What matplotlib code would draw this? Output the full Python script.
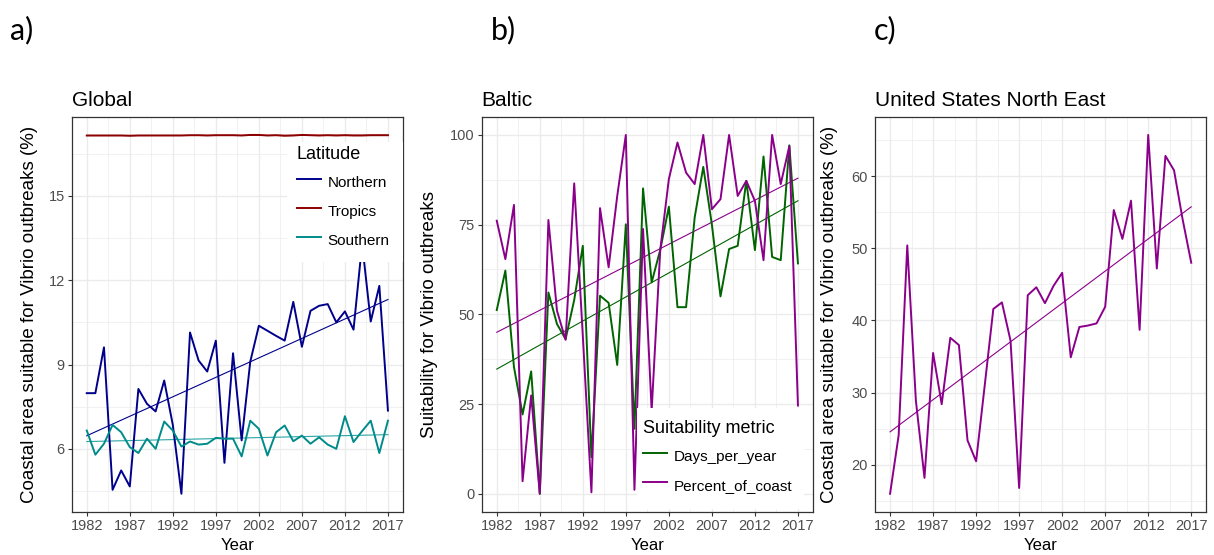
import numpy as np
import matplotlib
matplotlib.use("Agg")
import matplotlib.pyplot as plt
from matplotlib.ticker import FixedLocator
from matplotlib.patches import Rectangle

plt.rcParams['font.family'] = ['Liberation Sans', 'DejaVu Sans']

# ---------------- data ----------------
years = list(range(1982, 2018))
xticks = [1982, 1987, 1992, 1997, 2002, 2007, 2012, 2017]

northern = [7.98, 7.98, 9.61, 4.54, 5.23, 4.66, 8.13, 7.60, 7.33, 8.43,
            6.85, 4.40, 10.14, 9.14, 8.75, 9.85, 5.50, 9.40, 6.30, 9.10,
            10.38, 10.20, 10.02, 9.85, 11.23, 9.63, 10.91, 11.09, 11.15, 10.50,
            10.89, 10.24, 13.30, 10.53, 11.80, 7.36]
tropics = [17.15, 17.15, 17.15, 17.15, 17.15, 17.14, 17.15, 17.15, 17.15, 17.15,
           17.15, 17.15, 17.16, 17.16, 17.15, 17.16, 17.16, 17.16, 17.15, 17.17,
           17.17, 17.15, 17.16, 17.14, 17.15, 17.17, 17.16, 17.15, 17.16, 17.15,
           17.16, 17.15, 17.15, 17.16, 17.16, 17.16]
southern = [6.65, 5.79, 6.18, 6.85, 6.59, 6.06, 5.85, 6.36, 6.00, 6.97,
            6.65, 6.08, 6.26, 6.15, 6.18, 6.39, 6.36, 6.36, 5.73, 7.00,
            6.71, 5.76, 6.59, 6.83, 6.27, 6.47, 6.18, 6.41, 6.15, 6.00,
            7.16, 6.24, 6.63, 7.00, 5.85, 7.00]
global_yticks = [6, 9, 12, 15]

days_per_year = [51.2, 62.2, 35.3, 22.1, 34.1, 0.0, 56.1, 47.3, 43.1, 54.0,
                 69.1, 10.2, 55.2, 53.2, 35.9, 75.1, 18.1, 85.1, 58.9, 68.0,
                 80.0, 52.0, 52.0, 77.0, 91.1, 75.0, 55.0, 68.2, 69.1, 87.2,
                 67.9, 94.0, 66.0, 65.1, 97.1, 64.2]
percent_of_coast = [76.1, 65.4, 80.5, 3.5, 27.4, 0.0, 76.3, 51.0, 42.9, 86.5,
                    44.0, 0.4, 79.6, 63.1, 83.0, 100.0, 1.1, 73.8, 23.2, 68.0,
                    87.7, 97.9, 89.5, 86.3, 100.0, 79.3, 82.1, 100.0, 83.0, 87.2,
                    81.6, 65.1, 100.0, 86.3, 96.9, 24.6]
baltic_yticks = [0, 25, 50, 75, 100]

usne = [16.0, 24.1, 50.4, 28.9, 18.2, 35.5, 28.4, 37.6, 36.6, 23.4,
        20.5, 31.0, 41.6, 42.5, 37.2, 16.8, 43.5, 44.6, 42.4, 44.8,
        46.6, 34.9, 39.1, 39.3, 39.6, 41.9, 55.3, 51.3, 56.6, 38.7,
        65.7, 47.2, 62.8, 60.8, 54.0, 48.0]
usne_yticks = [20, 30, 40, 50, 60]

# ---------------- figure ----------------
W, H = 1214, 555
fig = plt.figure(figsize=(W / 100, H / 100), dpi=100)

top_px, bot_px = 117, 511.7
ax_h = (bot_px - top_px) / H
ax_b = 1 - bot_px / H
ax_wpx = 331.3
ax_w = ax_wpx / W
left_px = [71.7, 481.7, 875.0]

border_col = '#333333'
grid_col = '#EBEBEB'
tick_col = '#4D4D4D'


def style_axes(ax, yticks, yvals, lpx, ylab, ylab_x):
    x0, x1 = min(years), max(years)
    xr = x1 - x0
    ax.set_xlim(x0 - 0.05 * xr, x1 + 0.05 * xr)
    lo = min(min(v) for v in yvals)
    hi = max(max(v) for v in yvals)
    yr = hi - lo
    ax.set_ylim(lo - 0.05 * yr, hi + 0.05 * yr)
    ax.set_xticks(xticks)
    ax.set_yticks(yticks)
    ax.xaxis.set_minor_locator(FixedLocator([t + 2.5 for t in xticks[:-1]]))
    ystep = yticks[1] - yticks[0]
    ymin_ticks = [yticks[0] - ystep / 2] + [t + ystep / 2 for t in yticks]
    ax.yaxis.set_minor_locator(FixedLocator(ymin_ticks))
    ax.grid(True, which='major', color=grid_col, linewidth=1.0, zorder=0)
    ax.grid(True, which='minor', color=grid_col, linewidth=0.5, zorder=0)
    ax.set_axisbelow(True)
    for s in ax.spines.values():
        s.set_color(border_col)
        s.set_linewidth(0.9)
    ax.tick_params(which='major', direction='out', length=3, width=0.8,
                   color=border_col, labelsize=10.5, labelcolor=tick_col, pad=2)
    ax.tick_params(which='minor', length=0)
    ax.set_xlabel('Year', fontsize=12, labelpad=4)
    ax.set_ylabel(ylab, fontsize=13.5, va='center')
    ax.yaxis.set_label_coords((ylab_x - lpx) / ax_wpx, 0.5)


def trend(ax, y, color):
    k, c = np.polyfit(years, y, 1)
    xs = np.array([min(years), max(years)])
    ax.plot(xs, k * xs + c, color=color, linewidth=0.8, zorder=3)


def legend(ax, handles, labels, title, tx, ty, box):
    x0, y0, x1, y1 = box
    ax.add_patch(Rectangle((x0 / W, 1 - y1 / H), (x1 - x0) / W, (y1 - y0) / H,
                           transform=fig.transFigure, facecolor='white',
                           edgecolor='none', zorder=8, clip_on=False))
    leg = ax.legend(handles, labels, title=title, loc='upper left',
                    bbox_to_anchor=(tx / W, 1 - ty / H),
                    bbox_transform=fig.transFigure, frameon=False,
                    fontsize=11, title_fontsize=13,
                    alignment='left', handlelength=1.55, handletextpad=0.45,
                    handleheight=1.72, labelspacing=0.54,
                    borderpad=0, borderaxespad=0)
    leg.set_zorder(10)
    return leg


# ---- panel a ----
axa = fig.add_axes([left_px[0] / W, ax_b, ax_w, ax_h])
ln = axa.plot(years, northern, color='#00008B', linewidth=1.4, zorder=4)[0]
lt = axa.plot(years, tropics, color='#8B0000', linewidth=1.4, zorder=4)[0]
ls = axa.plot(years, southern, color='#008B8B', linewidth=1.4, zorder=4)[0]
trend(axa, northern, '#00008B')
trend(axa, tropics, '#8B0000')
trend(axa, southern, '#2AA5A5')
style_axes(axa, global_yticks, [northern, tropics, southern], left_px[0],
           'Coastal area suitable for Vibrio outbreaks (%)', 30)
axa.set_title('Global', loc='left', fontsize=15, pad=8)
legend(axa, [ln, lt, ls], ['Northern', 'Tropics', 'Southern'], 'Latitude',
       297, 146, (286.7, 141.7, 403, 262))

# ---- panel b ----
axb = fig.add_axes([left_px[1] / W, ax_b, ax_w, ax_h])
ld = axb.plot(years, days_per_year, color='#006400', linewidth=1.4, zorder=4)[0]
lp = axb.plot(years, percent_of_coast, color='#8B008B', linewidth=1.4, zorder=4)[0]
trend(axb, days_per_year, '#006400')
trend(axb, percent_of_coast, '#8B008B')
style_axes(axb, baltic_yticks, [days_per_year, percent_of_coast], left_px[1],
           'Suitability for Vibrio outbreaks', 429)
axb.set_title('Baltic', loc='left', fontsize=15, pad=8)
legend(axb, [ld, lp], ['Days_per_year', 'Percent_of_coast'], 'Suitability metric',
       643, 420, (636.7, 408, 804, 509))

# ---- panel c ----
axc = fig.add_axes([left_px[2] / W, ax_b, ax_w, ax_h])
axc.plot(years, usne, color='#8B008B', linewidth=1.4, zorder=4)
trend(axc, usne, '#8B008B')
style_axes(axc, usne_yticks, [usne], left_px[2],
           'Coastal area suitable for Vibrio outbreaks (%)', 829)
axc.set_title('United States North East', loc='left', fontsize=15, pad=8)

# panel letters
for lbl, xp in [('a)', 10), ('b)', 491), ('c)', 874)]:
    fig.text(xp / W, 1 - 30 / H, lbl, fontsize=22, va='center', ha='left',
             family=['Lato', 'DejaVu Sans'])

fig.savefig('out.png', dpi=100)
